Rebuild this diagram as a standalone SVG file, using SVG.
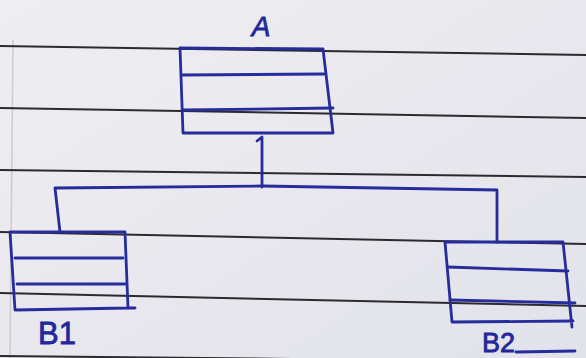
<svg xmlns="http://www.w3.org/2000/svg" width="586" height="358" viewBox="0 0 586 358">
  <defs>
    <linearGradient id="paper" x1="0" y1="0" x2="1" y2="1">
      <stop offset="0" stop-color="#eeeef2"/>
      <stop offset="1" stop-color="#e2e2ea"/>
    </linearGradient>
    <style>
      .rule { stroke: #2a2a30; stroke-width: 2; fill: none; }
      .margin { stroke: #cbcbd1; stroke-width: 1.5; fill: none; }
      .ink { stroke: #262c9c; stroke-width: 2.8; fill: none; stroke-linecap: round; stroke-linejoin: round; }
      .label { font-family: "Liberation Sans", Arial, sans-serif; fill: #22279a; stroke: #22279a; stroke-width: 0.8; }
    </style>
  </defs>

  <!-- paper -->
  <rect x="0" y="0" width="586" height="358" fill="url(#paper)"/>
  <g id="paper-lines">
    <line class="margin" x1="13" y1="40" x2="10" y2="358"/>
    <line class="rule" x1="0" y1="46" x2="586" y2="55"/>
    <line class="rule" x1="0" y1="108" x2="586" y2="118"/>
    <line class="rule" x1="0" y1="170" x2="586" y2="177"/>
    <line class="rule" x1="0" y1="232" x2="586" y2="244"/>
    <line class="rule" x1="0" y1="293" x2="586" y2="306"/>
    <line class="rule" x1="0" y1="356" x2="586" y2="362"/>
  </g>

  <!-- connectors -->
  <g id="connectors">
    <path class="ink" d="M257 141 L262 137 L262 187"/>
    <path class="ink" d="M60 232 L55 188 L262 186 L497 190 L497 242"/>
  </g>

  <!-- node A -->
  <g id="A">
    <path class="ink" d="M180 48 L323 49 L333 133 L183 133 Z"/>
    <path class="ink" d="M183 75 L324 74"/>
    <path class="ink" d="M183 110 L333 108"/>
    <text class="label" x="261" y="36" font-size="28" font-style="italic" text-anchor="middle">A</text>
  </g>

  <!-- node B1 -->
  <g id="B1">
    <path class="ink" d="M10 232 L125 232 L128 308 L15 310 Z"/>
    <path class="ink" d="M128 308 L135 308"/>
    <path class="ink" d="M15 258 L123 258"/>
    <path class="ink" d="M17 284 L125 284"/>
    <text class="label" x="38" y="344" font-size="31">B1</text>
  </g>

  <!-- node B2 -->
  <g id="B2">
    <path class="ink" d="M445 242 L563 242 L572 327 M573 321 L452 322 L445 242"/>
    <path class="ink" d="M448 267 L568 271"/>
    <path class="ink" d="M450 300 L575 303"/>
    <text class="label" x="482" y="352" font-size="27">B2</text>
    <path class="ink" d="M516 352 L575 351"/>
  </g>
</svg>
